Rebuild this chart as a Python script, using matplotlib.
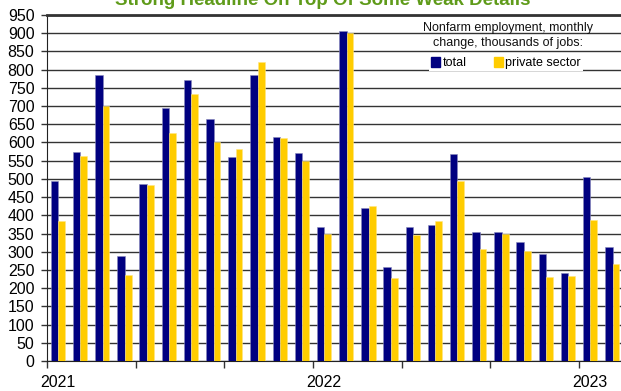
import numpy as np
import matplotlib
matplotlib.use("Agg")
import matplotlib.pyplot as plt
from matplotlib.patches import Patch

plt.rcParams['font.family'] = ['Liberation Sans', 'DejaVu Sans']

# monthly change, thousands of jobs, Jan 2021 .. Feb 2023
months = ["Jan 21", "Feb 21", "Mar 21", "Apr 21", "May 21", "Jun 21", "Jul 21",
          "Aug 21", "Sep 21", "Oct 21", "Nov 21", "Dec 21", "Jan 22", "Feb 22",
          "Mar 22", "Apr 22", "May 22", "Jun 22", "Jul 22", "Aug 22", "Sep 22",
          "Oct 22", "Nov 22", "Dec 22", "Jan 23", "Feb 23"]
total = [495, 575, 786, 289, 485, 694, 771, 665, 559, 785, 615, 572, 369,
         907, 419, 257, 369, 373, 568, 355, 353, 326, 295, 242, 506, 314]
private = [385, 563, 700, 235, 482, 625, 732, 601, 583, 820, 613, 550, 348,
           900, 426, 228, 345, 384, 494, 307, 348, 302, 230, 233, 388, 266]
year_labels = ["2021", "2022", "2023"]
year_pos = [0, 12, 24]

navy = "#000080"
gold = "#FFCC00"

fig = plt.figure(figsize=(6.21, 3.91), dpi=100)
ax = fig.add_axes([47 / 621, 30 / 391, 576.5 / 621, 346 / 391])

x = np.arange(len(months))
w = 0.34
ax.bar(x + 0.17, total, width=w, align='edge', color=navy,
       edgecolor="#8888bb", linewidth=0.4, zorder=3)
ax.bar(x + 0.17 + w, private, width=w * 0.9, align='edge', color=gold,
       edgecolor="#ffe680", linewidth=0.4, zorder=3)

ax.set_xlim(0, len(months))
ax.set_ylim(0, 950)
ax.set_yticks(np.arange(0, 951, 50))
ax.yaxis.grid(True, color="#333333", linewidth=1, zorder=0)
ax.set_axisbelow(True)

# year ticks every 4 months, labels under the january bars
ax.set_xticks(np.arange(0, len(months), 4))
ax.set_xticklabels([])
ax.set_xticks([p + 0.5 for p in year_pos], minor=True)
ax.set_xticklabels(year_labels, minor=True)
ax.tick_params(axis='x', which='major', direction='out', length=5,
               width=1, color="#333333")
ax.tick_params(axis='x', which='minor', length=0, pad=10, labelsize=11.5)
ax.tick_params(axis='y', direction='out', length=4, width=1,
               color="#333333", pad=5, labelsize=11.5)

ax.spines['right'].set_visible(False)
ax.spines['top'].set_color("#333333")
ax.spines['top'].set_linewidth(2)
ax.spines['left'].set_color("#222222")
ax.spines['bottom'].set_color("#222222")

ax.text(0.80, 0.962, "Nonfarm employment, monthly", transform=ax.transAxes,
        ha='center', va='center', fontsize=9, color="#111111", zorder=5)
ax.text(0.80, 0.919, "change, thousands of jobs:", transform=ax.transAxes,
        ha='center', va='center', fontsize=9, color="#111111", zorder=5)

handles = [Patch(color=navy, label="total"), Patch(color=gold, label="private sector")]
leg = ax.legend(handles=handles, ncol=2, loc='center', bbox_to_anchor=(0.796, 0.861),
                fontsize=9, frameon=True, fancybox=False, edgecolor='none',
                facecolor='white', framealpha=1, handlelength=0.7,
                handleheight=0.9, handletextpad=0.2, columnspacing=2.2,
                borderpad=0.15, borderaxespad=0)
leg.set_zorder(5)

fig.text(0.519, 1 - 5 / 391, "Strong Headline On Top Of Some Weak Details",
         ha='center', va='baseline', fontsize=13.5, fontweight='bold',
         color="#5f9b1a")

fig.savefig("out.png", dpi=100)
